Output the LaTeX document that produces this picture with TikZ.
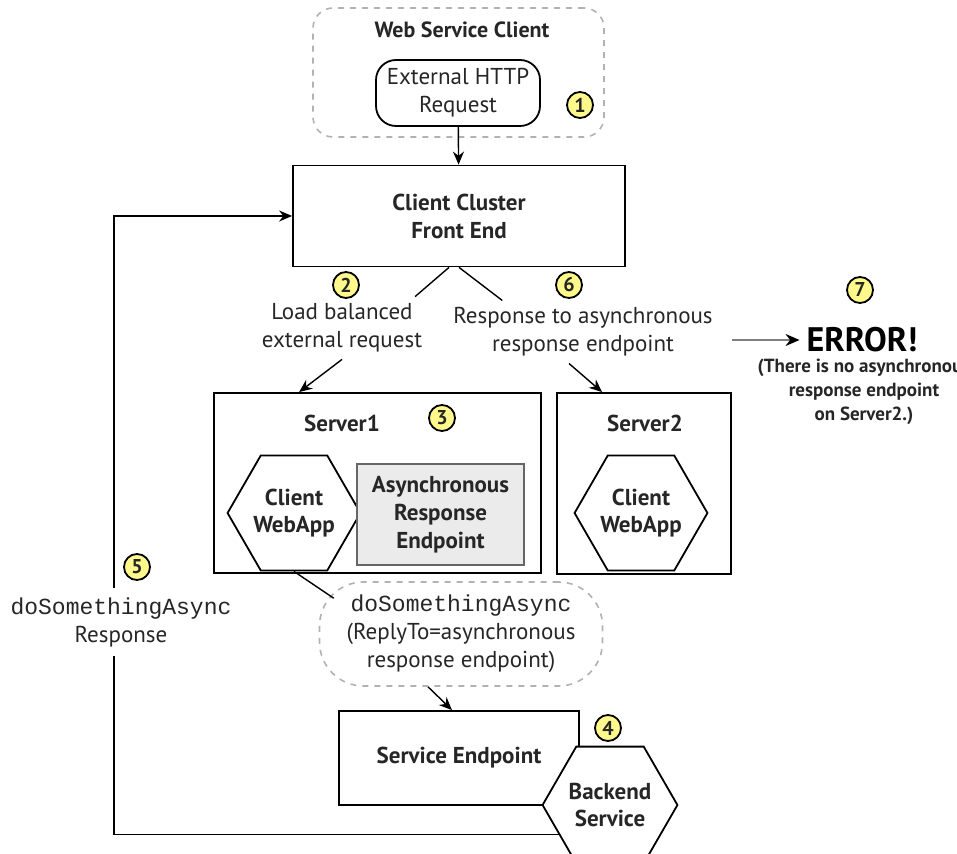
\documentclass[tikz,border=0pt]{standalone}
\usepackage{fontspec}
\setmainfont{PT Sans}
\setmonofont{Liberation Mono}
\usetikzlibrary{shapes.geometric,arrows.meta,positioning}
\begin{document}
\begin{tikzpicture}[x=0.5pt,y=-0.5pt,
	every node/.style={font=\fontsize{11.5}{14}\selectfont,text=black!85},
	box/.style={draw,line width=0.9pt,align=center,font=\fontsize{11.5}{14}\selectfont\bfseries},
	hex/.style={draw,fill=white,line width=0.9pt,regular polygon,regular polygon sides=6,minimum size=60pt,inner sep=0pt,align=center,font=\fontsize{11.5}{13.5}\selectfont\bfseries},
	num/.style={circle,draw,fill=yellow!45,line width=0.9pt,minimum size=13pt,inner sep=0pt,font=\fontsize{10}{10}\selectfont\bfseries},
	lbl/.style={align=center},
	arr/.style={-{Stealth[length=6.5pt,width=5.5pt]},line width=0.7pt}]
\useasboundingbox (0,0) rectangle (957,854);
\node [draw=gray!60,dashed,rounded corners=10pt,line width=0.8pt,minimum width=145.5pt,minimum height=64.5pt] (wsc) at (458.5,72.5) {};
\node [font=\fontsize{11}{13}\selectfont\bfseries] (wt) at (462,30) {Web Service Client};
\node [draw,rounded corners=10pt,line width=0.9pt,minimum width=82pt,minimum height=33pt,align=center] (req) at (458,93) {External HTTP\\Request};
\node [num] (n1) at (580,105) {1};
\node [box,minimum width=166pt,minimum height=50.5pt] (front) at (459,216) {Client Cluster\\Front End};
\draw [arr] (req) -- (front);

\node [lbl] (l2) at (342,328) {Load balanced\\external request};
\node [num] (n2) at (346,285) {2};
\node [lbl] (l6) at (583,332) {Response to asynchronous\\response endpoint};
\node [num] (n6) at (569,285) {6};

\node [box,minimum width=163.5pt,minimum height=90pt] (s1) at (377.5,483) {};
\node [font=\fontsize{11.5}{14}\selectfont\bfseries] (s1t) at (342,423) {Server1};
\node [num] (n3) at (442,418) {3};
\node [hex] (c1) at (294,513) {Client\\WebApp};
\node [box,draw=black!60,fill=black!8,line width=1.2pt,minimum width=83.5pt,minimum height=50.5pt] (are) at (440.5,514.5) {Asynchronous\\Response\\Endpoint};

\node [box,minimum width=87pt,minimum height=90.5pt] (s2) at (644,483.5) {};
\node [font=\fontsize{11.5}{14}\selectfont\bfseries] (s2t) at (645,423) {Server2};
\node [hex] (c2) at (641,513) {Client\\WebApp};

\node [font=\fontsize{17}{17}\selectfont\bfseries,text=black] (err) at (862,340) {ERROR!};
\node [num] (n7) at (860,290) {7};
\node [align=center,font=\fontsize{9.5}{12}\selectfont\bfseries] (why) at (864,392) {(There is no asynchronous\\response endpoint\\on Server2.)};

\node [draw=gray!60,dashed,rounded corners=22pt,line width=0.8pt,minimum width=141.5pt,minimum height=52pt,inner sep=0pt,align=center] (call) at (461,634) {\texttt{doSomethingAsync}\\(ReplyTo=asynchronous\\response endpoint)};
\node [box,minimum width=120pt,minimum height=47pt] (se) at (459,758) {Service Endpoint};
\node [num] (n4) at (608,728) {4};
\node [hex] (back) at (610,805) {Backend\\Service};

\draw [line width=0.7pt] ([xshift=-5pt]front.south) -- ([xshift=-7pt]l2.north east);
\draw [arr] (l2.south) -- ([xshift=43pt]s1.north west);
\draw [line width=0.7pt] (front.south) -- ([xshift=28pt]l6.north west);
\draw [arr] ([xshift=-7pt]l6.south) -- ([xshift=23pt]s2.north west);
\draw [draw=gray,line width=1pt,-{Stealth[black,length=7pt,width=6pt]}] ([xshift=6pt]l6.east |- err.west) -- (err.west);
\draw [line width=0.7pt] (c1.south) -- ([xshift=7.5pt,yshift=-8.5pt]call.north west);
\draw [arr] ([xshift=-16.5pt]call.south) -- ([xshift=-3.5pt]se.north);

\coordinate (ret) at (114,216);
\draw [arr] (back.210) -| (ret) -- (front.west);
\node [lbl,fill=white,inner ysep=4.5pt] (l5) at (121,622) {\texttt{doSomethingAsync}\\Response};
\node [num] (n5) at (137,567) {5};
\end{tikzpicture}
\end{document}
